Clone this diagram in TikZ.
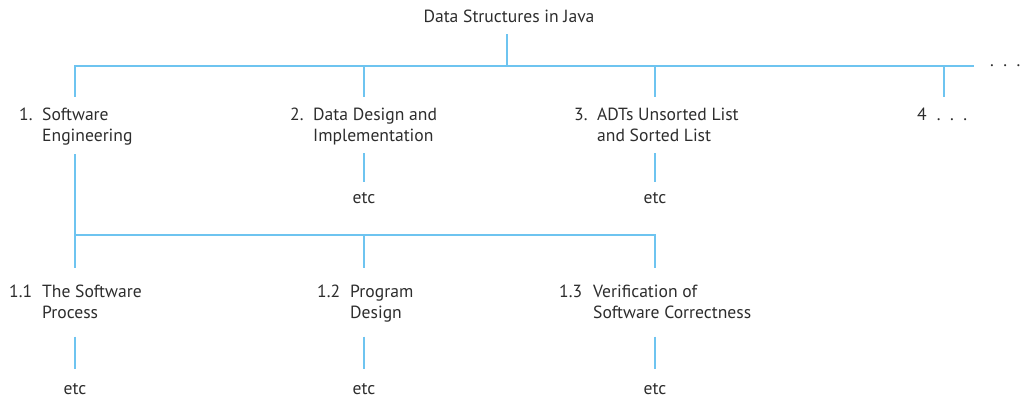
\documentclass[tikz,border=0pt]{standalone}
\usepackage{fontspec}
\setmainfont{PT Sans}
\usetikzlibrary{positioning}
\definecolor{treeblue}{RGB}{110,196,240}
\definecolor{textgray}{RGB}{45,45,45}
\newcommand{\entry}[3]{\makebox[#1][l]{#2}\begin{tabular}[t]{@{}l@{}}#3\end{tabular}}
\newcommand{\dotgap}{\hspace{9.5pt}}
\begin{document}
\begin{tikzpicture}[x=1pt,y=-1pt,line cap=butt,
    every node/.style={font=\fontsize{17.6}{21.5}\selectfont,text=textgray,
      inner sep=0pt,execute at begin node=\strut},
    branch/.style={draw=treeblue,line width=1.5pt}]
  \useasboundingbox (0,0) rectangle (1023,400);
  % Root and first level.
  \node[anchor=base] (root) at (509,22) {Data Structures in Java};
  \coordinate (top) at (507,66);
  \coordinate (j1) at (75,66);
  \coordinate (j2) at (364,66);
  \coordinate (j3) at (655,66);
  \coordinate (j4) at (944,66);
  \coordinate (barend) at (974,66);
  \node[anchor=base west] (more) at (990,66) {.\dotgap.\dotgap.};
  \node[anchor=base west] (sec1) at (19,120) {\entry{23pt}{1.}{Software\\Engineering}};
  \node[anchor=base west] (sec2) at (290,120) {\entry{23pt}{2.}{Data Design and\\Implementation}};
  \node[anchor=base west] (sec3) at (574,120) {\entry{23pt}{3.}{ADTs Unsorted List\\and Sorted List}};
  \node[anchor=base west] (sec4) at (917,120) {4\hspace{10pt}.\dotgap.\dotgap.};
  \node[anchor=base] (etc2) at (364,203) {etc};
  \node[anchor=base] (etc3) at (655,203) {etc};
  \draw[branch,shorten <=5.5pt] (root.south -| top) -- (top);
  \draw[branch,shorten <=8pt] (j1 |- sec1.north) -- (j1) -- (barend);
  \foreach \j/\s in {j2/sec2,j3/sec3,j4/sec4}
    \draw[branch,shorten >=8pt] (\j) -- (\j |- \s.north);
  \foreach \s/\e in {sec2/etc2,sec3/etc3}
    \draw[branch,shorten <=5pt,shorten >=6pt] (\s.south -| \e) -- (\e.north);

  % Second level under Software Engineering.
  \coordinate (k1) at (75,235);
  \coordinate (k2) at (364,235);
  \coordinate (k3) at (655,235);
  \node[anchor=base west] (sub1) at (9,297) {\entry{33pt}{1.1}{The Software\\Process}};
  \node[anchor=base west] (sub2) at (317,297) {\entry{33pt}{1.2}{Program\\Design}};
  \node[anchor=base west] (sub3) at (559,297) {\entry{34pt}{1.3}{Verification of\\Software Correctness}};
  \node[anchor=base] (etcs1) at (75,394) {etc};
  \node[anchor=base] (etcs2) at (364,394) {etc};
  \node[anchor=base] (etcs3) at (655,394) {etc};
  \draw[branch,shorten <=6pt,shorten >=14pt] (sec1.south -| k1) -- (k1 |- sub1.north);
  \draw[branch,shorten >=14pt] (k1) -- (k3) -- (k3 |- sub3.north);
  \draw[branch,shorten >=14pt] (k2) -- (k2 |- sub2.north);
  \foreach \s/\e in {sub1/etcs1,sub2/etcs2,sub3/etcs3}
    \draw[branch,shorten <=11.5pt,shorten >=10pt] (\s.south -| \e) -- (\e.north);
\end{tikzpicture}
\end{document}
